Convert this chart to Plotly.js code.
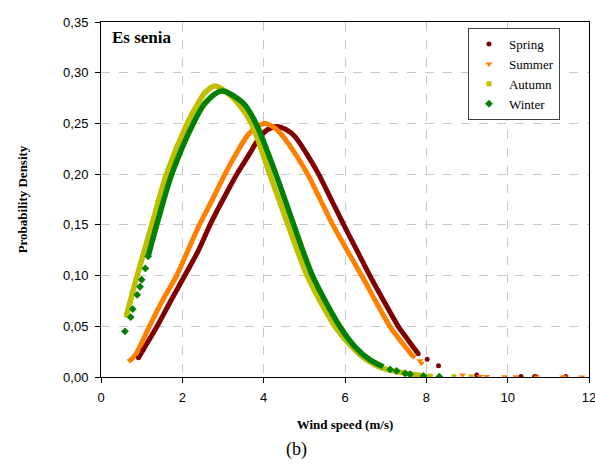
<!DOCTYPE html>
<html>
<head>
<meta charset="utf-8">
<script src="https://cdn.plot.ly/plotly-3.0.1.min.js"></script>
<style>html,body{margin:0;padding:0;background:#fff}#chart{width:595px;height:465px}</style>
</head>
<body>
<div id="chart"></div>
<script>
// ---- Data (wind speed m/s, probability density) ----
const seasons = ["Spring", "Summer", "Autumn", "Winter"];

// continuous bands
const springX = [0.92, 1.04, 1.38, 1.70, 2.06, 2.40, 2.68, 3.00, 3.34, 3.66, 3.91, 4.10, 4.32, 4.55, 4.77, 5.05, 5.35, 5.66, 5.97, 6.29, 6.61, 6.94, 7.31, 7.55, 7.80];
const springY = [0.019, 0.027, 0.050, 0.074, 0.100, 0.125, 0.150, 0.175, 0.200, 0.2205, 0.237, 0.244, 0.247, 0.244, 0.237, 0.2205, 0.200, 0.175, 0.150, 0.125, 0.100, 0.076, 0.050, 0.0365, 0.023];

const summerX = [0.71, 0.85, 1.19, 1.52, 1.86, 2.14, 2.42, 2.74, 3.05, 3.33, 3.58, 3.80, 4.03, 4.26, 4.48, 4.77, 5.08, 5.39, 5.70, 6.05, 6.41, 6.75, 7.10, 7.38, 7.68];
const summerY = [0.016, 0.022, 0.050, 0.076, 0.100, 0.125, 0.150, 0.175, 0.200, 0.2205, 0.237, 0.246, 0.250, 0.246, 0.237, 0.2205, 0.200, 0.175, 0.150, 0.125, 0.100, 0.075, 0.050, 0.035, 0.020];

const autumnX = [0.63, 0.89, 1.25, 1.61, 2.12, 2.39, 2.55, 2.80, 3.08, 3.37, 3.70, 4.15, 4.60, 5.07, 5.75, 6.16, 6.53, 6.90, 7.30, 7.60, 7.85];
const autumnY = [0.061, 0.100, 0.150, 0.200, 0.250, 0.270, 0.280, 0.287, 0.281, 0.270, 0.250, 0.200, 0.150, 0.100, 0.050, 0.030, 0.017, 0.009, 0.005, 0.003, 0.0015];

const winterX = [1.16, 1.37, 1.74, 2.27, 2.56, 2.97, 3.50, 3.81, 4.30, 4.74, 5.20, 5.87, 6.24, 6.61, 6.94];
const winterY = [0.119, 0.150, 0.200, 0.250, 0.270, 0.282, 0.270, 0.250, 0.200, 0.150, 0.100, 0.050, 0.030, 0.017, 0.010];

// isolated points
const springPtsX = [0.92, 1.04, 7.80, 8.02, 8.30, 9.24, 10.33, 10.66, 10.70, 11.43];
const springPtsY = [0.019, 0.027, 0.023, 0.0174, 0.0112, 0.002, 0.0004, 0.0004, 0.0003, 0.0004];

const summerPtsX = [0.71, 7.68, 7.84, 7.88, 8.89, 9.32, 9.48, 9.93, 10.20, 10.71, 11.35, 11.40, 11.82];
const summerPtsY = [0.016, 0.020, 0.016, 0.0135, 0.002, 0.0005, 0.0004, 0.0002, 0.0002, 0.0001, 0.0001, 0.0001, 0.0001];

const autumnPtsX = [0.63, 0.70, 0.76, 7.60, 7.75, 7.85, 8.00, 8.10, 8.68, 9.10];
const autumnPtsY = [0.061, 0.072, 0.082, 0.002, 0.002, 0.0015, 0.0008, 0.0007, 0.0003, 0.0002];

const winterPtsX = [0.59, 0.73, 0.78, 0.89, 0.96, 1.00, 1.09, 1.16, 7.11, 7.27, 7.48, 7.60, 7.93, 8.32];
const winterPtsY = [0.045, 0.059, 0.067, 0.081, 0.089, 0.096, 0.107, 0.119, 0.0075, 0.006, 0.0035, 0.0028, 0.001, 0.0003];

const xTicks = [0, 2, 4, 6, 8, 10, 12];
const yTicks = [0, 0.05, 0.10, 0.15, 0.20, 0.25, 0.30, 0.35];

// ---- styling ----
const colors = ["#800000", "#ff8000", "#bfbf00", "#008000"];
const symbols = ["circle", "triangle-down", "square", "diamond"];
const msize = [5, 6, 5, 6];
const lineW = [5, 5, 5.5, 5.5];

const curves = [[springX, springY], [summerX, summerY], [autumnX, autumnY], [winterX, winterY]];
const pts = [[springPtsX, springPtsY], [summerPtsX, summerPtsY], [autumnPtsX, autumnPtsY], [winterPtsX, winterPtsY]];

const traces = [];
for (let i = 0; i < 4; i++) {
  traces.push({
    x: curves[i][0], y: curves[i][1], type: "scatter", mode: "lines",
    line: {color: colors[i], width: lineW[i], shape: "spline", smoothing: 0.8},
    showlegend: false, hoverinfo: "skip"
  });
}
for (let i = 0; i < 4; i++) {
  traces.push({
    x: pts[i][0], y: pts[i][1], type: "scatter", mode: "markers", name: seasons[i],
    marker: {color: colors[i], symbol: symbols[i], size: msize[i], line: {width: 0}}
  });
}

const serif = "Liberation Serif, Times New Roman, serif";
const sans = "Liberation Sans, Arial, sans-serif";

const layout = {
  width: 595, height: 465,
  margin: {l: 101, r: 6, t: 22, b: 88},
  paper_bgcolor: "#ffffff", plot_bgcolor: "#ffffff",
  separators: ", ",
  showlegend: true,
  legend: {
    x: 0.752, y: 0.983, xanchor: "left", yanchor: "top",
    bgcolor: "#ffffff", bordercolor: "#404040", borderwidth: 1,
    font: {family: serif, size: 13, color: "#000"},
    itemwidth: 30, tracegroupgap: 0
  },
  xaxis: {
    range: [0, 12], tickvals: xTicks, ticktext: xTicks.map(String),
    ticks: "outside", ticklen: 5, tickcolor: "#000",
    showline: true, linecolor: "#000", linewidth: 1, mirror: true,
    showgrid: true, gridcolor: "#c8c8c8", griddash: "dash", gridwidth: 1,
    zeroline: false, ticklabelstandoff: 3, ticklabeloverflow: "allow",
    tickfont: {family: sans, size: 13, color: "#000"},
    title: {text: "<b>Wind speed (m/s)</b>", font: {family: serif, size: 13, color: "#000"}, standoff: 16}
  },
  yaxis: {
    range: [0, 0.35], tickvals: yTicks, tickformat: ".2f",
    ticks: "outside", ticklen: 5, tickcolor: "#000",
    showline: true, linecolor: "#000", linewidth: 1, mirror: true,
    showgrid: true, gridcolor: "#c8c8c8", griddash: "dash", gridwidth: 1,
    zeroline: false, ticklabelstandoff: 4, ticklabeloverflow: "allow",
    tickfont: {family: sans, size: 13, color: "#000"},
    title: {text: "<b>Probability Density</b>", font: {family: serif, size: 13, color: "#000"}, standoff: 32}
  },
  annotations: [
    {text: "<b>Es senia</b>", xref: "paper", yref: "paper", x: 0.018, y: 0.955, xanchor: "left", yanchor: "middle",
     showarrow: false, font: {family: serif, size: 17, color: "#000"}},
    {text: "(b)", xref: "paper", yref: "paper", x: 0.400, y: -0.205, xanchor: "center", yanchor: "middle",
     showarrow: false, font: {family: serif, size: 18, color: "#000"}}
  ]
};

Plotly.newPlot("chart", traces, layout, {displayModeBar: false, staticPlot: true});
</script>
</body>
</html>
